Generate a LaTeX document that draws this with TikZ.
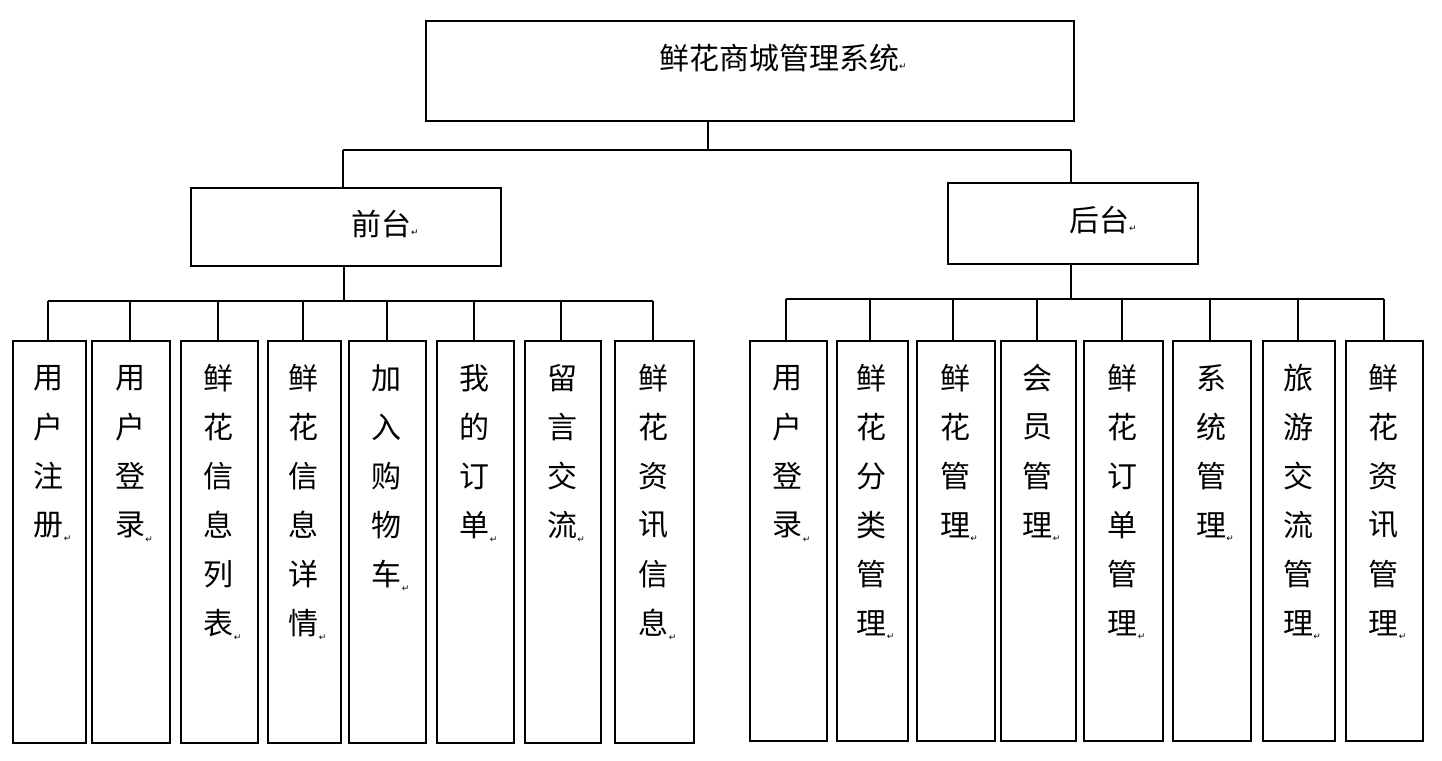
\documentclass[tikz,border=0pt]{standalone}
\usepackage{fontspec}
\newfontfamily\cjk{Noto Sans CJK SC}
\newfontfamily\dv{DejaVu Sans}
\newcommand{\pmk}{{\dv\fontsize{9}{9}\selectfont ↵}}
\begin{document}
\begin{tikzpicture}[x=1pt,y=-1pt,
  box/.style={draw,line width=1.6pt},
  ln/.style={draw,line width=1.6pt},
  ch/.style={font=\cjk\fontsize{30}{32}\selectfont,inner sep=0pt}]
\useasboundingbox (0,0) rectangle (1442,760);
\node[box,minimum width=648,minimum height=100,anchor=north west] (top) at (425,20) {};
\node[ch] (toptxt) at (783,58) {鲜花商城管理系统\pmk};
\node[box,minimum width=310,minimum height=78,anchor=north west] (front) at (190,187) {};
\node[ch] (fronttxt) at (385,224) {前台\pmk};
\node[box,minimum width=250,minimum height=81,anchor=north west] (back) at (947,182) {};
\node[ch] (backtxt) at (1103,220) {后台\pmk};
\draw[ln] (708,120) -- (708,150);
\draw[ln] (343,150) -- (1071,150);
\draw[ln] (343,150) -- (343,187);
\draw[ln] (1071,150) -- (1071,182);
% front children
\draw[ln] (344,265) -- (344,301);
\draw[ln] (48,301) -- (653,301);
\foreach \l/\r/\c/\t [count=\i] in {12/85/48/{用,户,注,册},91/169/130/{用,户,登,录},180/257/218/{鲜,花,信,息,列,表},267/340/303/{鲜,花,信,息,详,情},348/425/387/{加,入,购,物,车},436/513/474/{我,的,订,单},524/600/561/{留,言,交,流},614/693/653/{鲜,花,资,讯,信,息}}{
  \node[box,anchor=north west,minimum width={\r-\l},minimum height=402] (f\i) at (\l,340) {};
  \draw[ln] (\c,301) -- (\c,340);
  \foreach \k [count=\j] in \t {\node[ch] (f\i c\j) at ({(\l+\r)/2},{378+49*(\j-1)}) {\k};}
}
% back children
\draw[ln] (1071,263) -- (1071,299);
\draw[ln] (786,299) -- (1384,299);
\foreach \l/\r/\c/\t [count=\i] in {749/826/786/{用,户,登,录},836/907/870/{鲜,花,分,类,管,理},916/994/953/{鲜,花,管,理},1000/1075/1037/{会,员,管,理},1083/1162/1122/{鲜,花,订,单,管,理},1172/1250/1210/{系,统,管,理},1262/1334/1298/{旅,游,交,流,管,理},1345/1422/1384/{鲜,花,资,讯,管,理}}{
  \node[box,anchor=north west,minimum width={\r-\l},minimum height=400] (b\i) at (\l,340) {};
  \draw[ln] (\c,299) -- (\c,340);
  \foreach \k [count=\j] in \t {\node[ch] (b\i c\j) at ({(\l+\r)/2},{378+49*(\j-1)}) {\k};}
}
\foreach \n/\m in {f1/4,f2/4,f3/6,f4/6,f5/5,f6/4,f7/4,f8/6,b1/4,b2/6,b3/4,b4/4,b5/6,b6/4,b7/6,b8/6}{
  \node[inner sep=0pt,anchor=south west] (pm\n) at ([yshift=-4pt]\n c\m.south east) {\pmk};
}
\end{tikzpicture}
\end{document}
